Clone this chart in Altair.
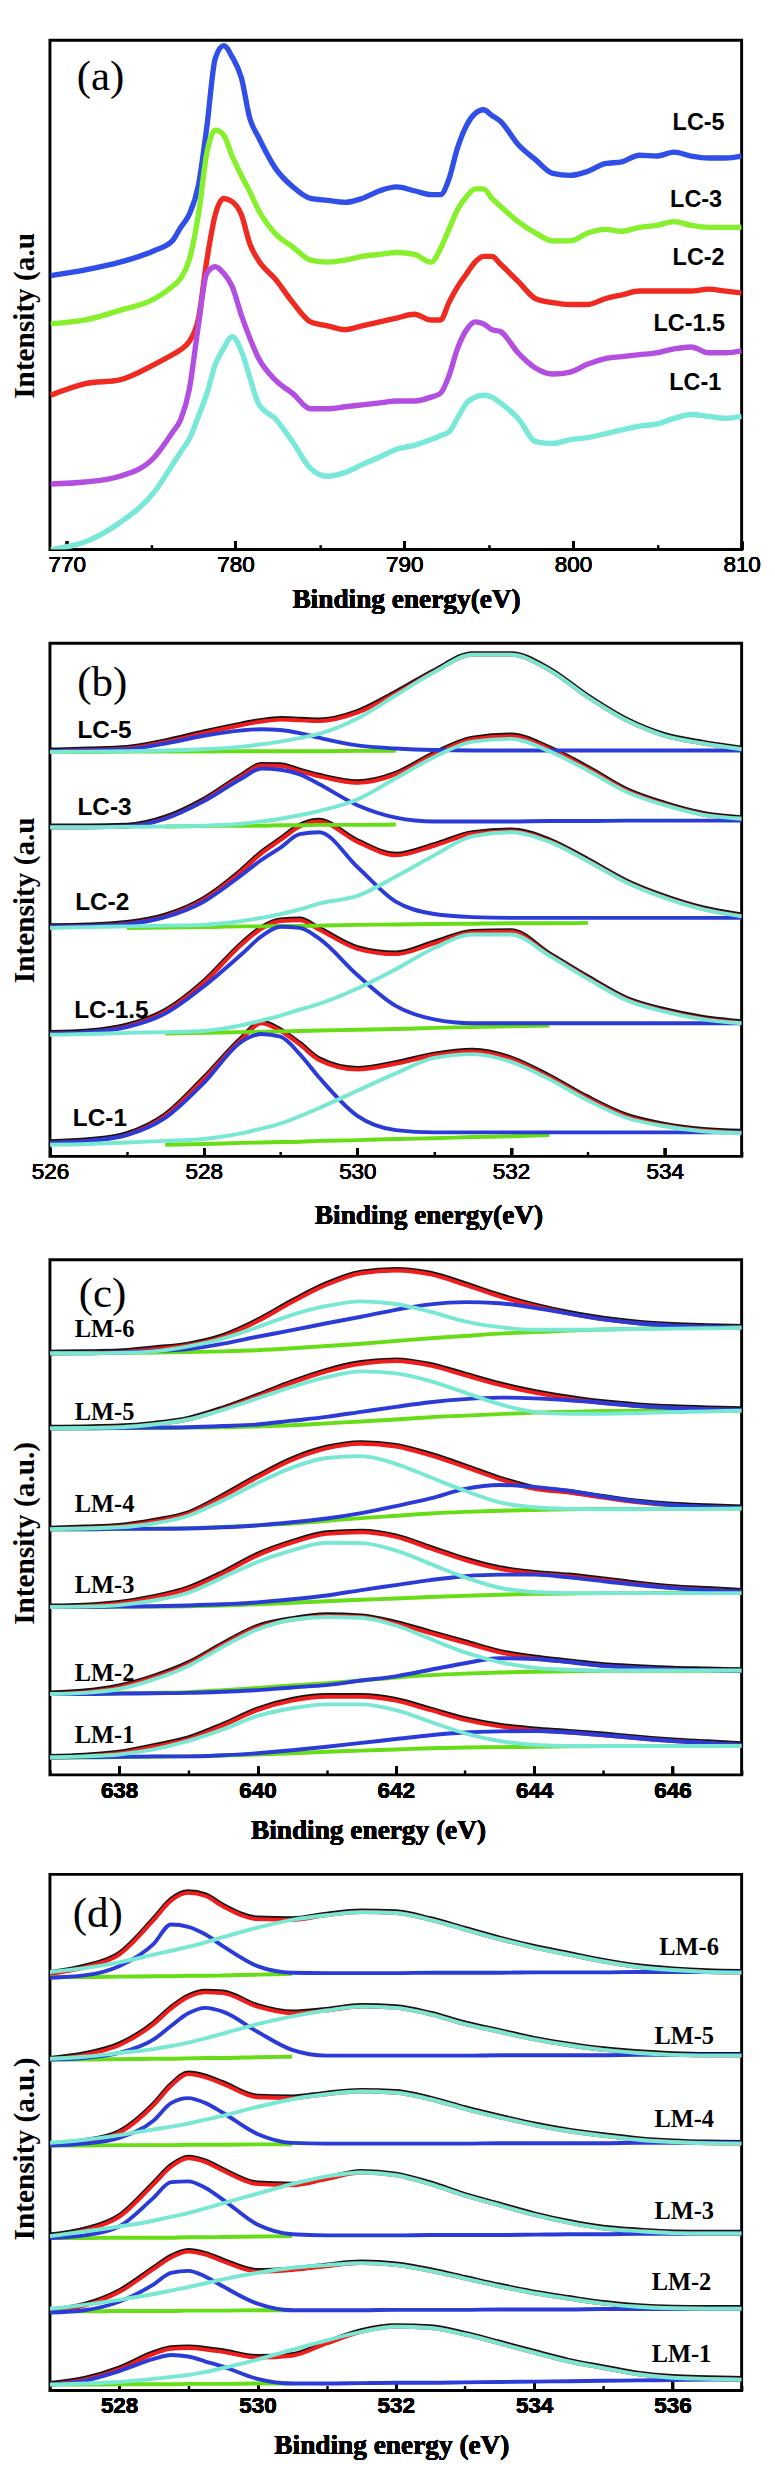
import altair as alt
import pandas as pd

# ======================= Panel (a): raw spectra =======================
A_X = [769.05, 771.1, 773.15, 775.2, 776.25, 776.75, 777.25, 777.8, 778.3, 778.8,
       779.3, 779.8, 780.35, 780.85, 781.35, 782.4, 783.4, 784.45, 785.45, 786.5,
       787.5, 788.55, 789.55, 790.6, 791.6, 792.15, 792.65, 793.15, 793.7, 794.2,
       794.7, 795.2, 795.7, 796.75, 797.8, 798.8, 799.85, 800.85, 801.9, 802.9,
       803.95, 804.95, 806.0, 807.0, 808.05, 809.05, 810.0]
A_LC5 = [710, 725, 745, 775, 800, 835, 868, 944, 1096, 1273, 1306, 1277, 1222, 1117, 1070, 986, 940,
         910, 905, 900, 910, 930, 940, 930, 920, 920, 960, 1040, 1100, 1130, 1140, 1125, 1110, 1050,
         1010, 975, 970, 980, 1000, 1005, 1022, 1020, 1030, 1020, 1015, 1015, 1020]
A_LC3 = [585, 595, 620, 650, 682, 703, 750, 868, 1028, 1087, 1074, 1020, 969, 927, 881, 817, 784,
         750, 745, 750, 760, 765, 770, 765, 745, 780, 830, 880, 915, 935, 935, 910, 890, 850,
         820, 800, 800, 820, 830, 825, 835, 840, 850, 840, 835, 835, 835]
A_LC2 = [400, 430, 440, 480, 505, 518, 539, 598, 750, 868, 910, 902, 868, 792, 750, 699, 640,
         590, 580, 570, 580, 590, 600, 610, 595, 595, 640, 680, 715, 745, 760, 760, 740, 695,
         650, 640, 635, 635, 650, 660, 670, 670, 670, 670, 675, 670, 665]
A_LC15 = [170, 175, 190, 240, 303, 337, 413, 581, 716, 733, 716, 682, 607, 548, 497, 438, 404,
          365, 365, 370, 375, 380, 385, 385, 395, 405, 450, 520, 570, 590, 585, 570, 565, 510,
          470, 455, 460, 480, 495, 500, 505, 510, 520, 525, 510, 510, 515]
A_LC1 = [0, 20, 70, 150, 219, 253, 286, 345, 404, 480, 522, 552, 514, 446, 379, 337, 278,
         210, 190, 200, 220, 240, 260, 270, 285, 295, 305, 340, 380, 395, 400, 395, 380, 340,
         280, 275, 285, 290, 300, 310, 320, 325, 340, 350, 345, 340, 345]
A_NAMES = ["LC-5", "LC-3", "LC-2", "LC-1.5", "LC-1"]
A_COLORS = ["#2f4fe8", "#86f02c", "#ef2a20", "#b24fe0", "#78e8d8"]
A_LABEL_X = [807.45, 807.3, 807.45, 806.9, 807.25]
A_LABEL_Y = [1105, 905, 755, 585, 430]
A_MAJOR = [770, 780, 790, 800, 810]
A_MINOR = [775, 785, 795, 805]

# ======================= Panel (b): O 1s of LC =======================
B_X = [526, 526.5, 527, 527.5, 528, 528.5, 528.75, 529, 529.25, 529.5, 530, 530.5,
       531, 531.5, 532, 532.5, 533, 533.5, 534, 534.5, 535]
B_NAMES = ["LC-5", "LC-3", "LC-2", "LC-1.5", "LC-1"]
B_RED = {
    "LC-5": [1050, 1053, 1057, 1074, 1097, 1118, 1127, 1132, 1130, 1128, 1150, 1200, 1256, 1300, 1300, 1260, 1190, 1130, 1090, 1070, 1055],
    "LC-3": [853, 853, 855, 876, 922, 986, 1013, 1012, 998, 985, 968, 990, 1042, 1081, 1089, 1056, 1005, 948, 912, 886, 875],
    "LC-2": [595, 597, 603, 622, 665, 740, 785, 820, 855, 868, 815, 780, 805, 836, 843, 817, 766, 711, 671, 641, 623],
    "LC-1.5": [318, 322, 337, 375, 450, 550, 590, 610, 612, 588, 538, 524, 552, 580, 582, 522, 462, 407, 377, 357, 346],
    "LC-1": [35, 40, 56, 105, 200, 305, 345, 325, 290, 250, 225, 240, 262, 272, 252, 205, 150, 104, 80, 67, 62],
}
B_BLUE = {
    "LC-5": [1050, 1052, 1055, 1070, 1090, 1104, 1107, 1105, 1097, 1085, 1065, 1057, 1053, 1052, 1052, 1052, 1052, 1052, 1052, 1052, 1052],
    "LC-3": [853, 853, 855, 875, 920, 980, 1005, 1002, 990, 965, 910, 878, 868, 868, 868, 869, 869, 870, 870, 870, 870],
    "LC-2": [595, 597, 602, 620, 660, 730, 768, 800, 835, 840, 750, 660, 628, 620, 618, 618, 618, 618, 618, 618, 618],
    "LC-1.5": [318, 322, 335, 370, 440, 525, 570, 595, 592, 565, 470, 390, 355, 345, 345, 345, 345, 345, 345, 345, 345],
    "LC-1": [35, 40, 55, 100, 190, 298, 317, 310, 265, 205, 105, 68, 62, 62, 62, 62, 62, 62, 62, 62, 62],
}
B_CYAN = {
    "LC-5": [1048, 1049, 1050, 1052, 1055, 1062, 1068, 1075, 1084, 1095, 1135, 1195, 1255, 1300, 1300, 1260, 1190, 1130, 1090, 1070, 1055],
    "LC-3": [853, 853, 854, 855, 857, 862, 868, 875, 884, 895, 925, 980, 1035, 1075, 1082, 1050, 1000, 945, 910, 885, 875],
    "LC-2": [592, 594, 596, 598, 600, 610, 618, 628, 640, 655, 675, 725, 780, 830, 840, 815, 765, 710, 670, 640, 622],
    "LC-1.5": [315, 317, 320, 322, 325, 340, 352, 365, 380, 395, 435, 485, 540, 575, 575, 520, 460, 405, 375, 355, 345],
    "LC-1": [30, 32, 36, 40, 45, 60, 72, 85, 104, 125, 170, 215, 255, 265, 245, 200, 145, 100, 78, 65, 60],
}
B_GREEN = {
    "LC-5": [1048, 1048, 1049, 1049, 1049, 1050, 1050, 1050, 1050, 1050, 1051, 1051, None, None, None, None, None, None, None, None, None],
    "LC-3": [None, None, None, 855, 856, 857, 857, 858, 858, 859, 859, 860, None, None, None, None, None, None, None, None, None],
    "LC-2": [None, None, 592, 593, 594, 596, 596, 597, 597, 598, 600, 601, 602, 603, 604, 604, 605, None, None, None, None],
    "LC-1.5": [None, None, None, 318, 320, 322, 323, 324, 325, 326, 328, 330, 333, 335, 337, 339, None, None, None, None, None],
    "LC-1": [None, None, None, 30, 32, 35, 36, 37, 38, 40, 42, 45, 47, 50, 52, 55, None, None, None, None, None],
}
B_LABEL_X = [526.71, 526.71, 526.68, 526.8, 526.65]
B_LABEL_Y = [1105, 905, 660, 380, 100]
B_MAJOR = [526, 528, 530, 532, 534]
B_MINOR = [527, 529, 531, 533, 535]

# ======================= Panel (c): Mn 2p3/2 of LM =======================
C_X = [637, 637.5, 638, 638.5, 639, 639.5, 640, 640.5, 641, 641.5, 642, 642.5,
       643, 643.5, 644, 644.5, 645, 645.5, 646, 646.5, 647]
C_NAMES = ["LM-6", "LM-5", "LM-4", "LM-3", "LM-2", "LM-1"]
C_RED = {
    "LM-6": [1095, 1096, 1098, 1106, 1116, 1138, 1178, 1228, 1273, 1303, 1310, 1300, 1273, 1243, 1218, 1198, 1183, 1173, 1167, 1164, 1162],
    "LM-5": [900, 901, 903, 910, 923, 950, 983, 1018, 1048, 1068, 1075, 1063, 1038, 1013, 993, 978, 966, 958, 953, 950, 948],
    "LM-4": [638, 641, 645, 658, 678, 723, 773, 818, 848, 860, 853, 830, 800, 768, 743, 733, 720, 708, 700, 696, 693],
    "LM-3": [436, 438, 445, 460, 483, 523, 570, 603, 626, 630, 618, 588, 558, 535, 523, 516, 506, 495, 486, 481, 476],
    "LM-2": [210, 215, 228, 253, 288, 338, 383, 403, 413, 410, 393, 368, 343, 318, 303, 293, 283, 278, 274, 272, 270],
    "LM-1": [45, 48, 56, 73, 93, 128, 168, 193, 203, 203, 193, 168, 143, 126, 116, 110, 103, 95, 88, 83, 78],
}
C_BLUE = {
    "LM-6": [1095, 1095, 1097, 1101, 1106, 1120, 1138, 1155, 1173, 1190, 1208, 1222, 1228, 1225, 1213, 1198, 1183, 1173, 1167, 1164, 1162],
    "LM-5": [900, 900, 901, 902, 903, 906, 910, 920, 930, 943, 956, 968, 976, 980, 978, 973, 966, 958, 953, 950, 948],
    "LM-4": [638, 638, 639, 639, 640, 643, 648, 656, 666, 680, 698, 718, 743, 753, 748, 738, 723, 710, 701, 696, 693],
    "LM-3": [436, 436, 437, 438, 440, 443, 448, 456, 466, 480, 493, 506, 516, 520, 520, 513, 503, 493, 485, 480, 476],
    "LM-2": [210, 210, 211, 212, 213, 216, 220, 227, 233, 245, 256, 273, 290, 303, 301, 293, 283, 278, 274, 272, 270],
    "LM-1": [45, 46, 47, 48, 48, 51, 56, 64, 73, 83, 93, 103, 110, 113, 114, 110, 103, 95, 88, 83, 78],
}
C_CYAN = {
    "LM-6": [1095, 1095, 1096, 1100, 1113, 1133, 1163, 1195, 1218, 1230, 1223, 1203, 1178, 1163, 1156, 1156, 1157, 1158, 1159, 1160, 1161],
    "LM-5": [900, 901, 903, 910, 923, 948, 978, 1008, 1033, 1048, 1043, 1023, 993, 963, 943, 938, 938, 940, 942, 944, 946],
    "LM-4": [638, 640, 643, 653, 673, 713, 758, 798, 823, 828, 808, 773, 738, 708, 695, 691, 690, 690, 691, 691, 692],
    "LM-3": [436, 437, 441, 453, 473, 513, 553, 583, 603, 602, 583, 548, 513, 486, 475, 472, 472, 472, 472, 472, 472],
    "LM-2": [210, 213, 223, 248, 283, 333, 378, 403, 410, 408, 388, 353, 318, 293, 278, 273, 271, 271, 271, 271, 271],
    "LM-1": [45, 48, 53, 66, 88, 118, 153, 173, 183, 183, 168, 138, 108, 88, 78, 75, 75, 75, 75, 75, 75],
}
C_GREEN = {
    "LM-6": [1095, 1095, 1096, 1097, 1098, 1100, 1103, 1108, 1114, 1120, 1127, 1134, 1140, 1146, 1150, 1154, 1157, 1159, 1161, 1162, 1163],
    "LM-5": [900, 900, 901, 901, 902, 903, 905, 908, 913, 918, 923, 929, 933, 937, 941, 943, 945, 946, 946, 946, 946],
    "LM-4": [638, 638, 639, 640, 641, 644, 648, 653, 660, 667, 673, 679, 683, 686, 688, 690, 691, 691, 692, 692, 692],
    "LM-3": [436, 436, 437, 437, 438, 440, 443, 447, 451, 455, 458, 462, 465, 468, 470, 471, 472, 472, 473, 473, 473],
    "LM-2": [210, 210, 212, 213, 215, 220, 226, 232, 238, 245, 253, 259, 263, 266, 268, 269, 270, 270, 270, 270, 270],
    "LM-1": [45, 45, 46, 47, 48, 50, 53, 56, 60, 63, 66, 69, 71, 72, 73, 74, 75, 75, 75, 75, 75],
}
C_LABEL_X = [637.79, 637.79, 637.79, 637.79, 637.79, 637.79]
C_LABEL_Y = [1158, 943, 703, 493, 263, 103]
C_MAJOR = [638, 640, 642, 644, 646]
C_MINOR = [637, 639, 641, 643, 645, 647]

# ======================= Panel (d): O 1s of LM =======================
D_X = [527, 527.5, 528, 528.5, 528.75, 529, 529.25, 529.5, 530, 530.5, 531, 531.5,
       532, 532.5, 533, 533.5, 534, 534.5, 535, 535.5, 536, 536.5, 537]
D_NAMES = ["LM-6", "LM-5", "LM-4", "LM-3", "LM-2", "LM-1"]
D_RED = {
    "LM-6": [1080, 1097, 1130, 1220, 1270, 1290, 1282, 1255, 1222, 1220, 1232, 1240, 1238, 1220, 1195, 1170, 1148, 1130, 1112, 1098, 1090, 1085, 1083],
    "LM-5": [858, 870, 895, 950, 990, 1020, 1032, 1030, 995, 978, 985, 995, 992, 975, 950, 930, 910, 895, 883, 875, 870, 868, 868],
    "LM-4": [635, 645, 668, 740, 790, 820, 812, 795, 760, 758, 768, 775, 772, 755, 730, 708, 688, 672, 660, 650, 644, 641, 640],
    "LM-3": [400, 415, 450, 535, 580, 602, 592, 570, 535, 532, 548, 565, 558, 535, 505, 480, 455, 435, 420, 413, 408, 407, 407],
    "LM-2": [205, 220, 255, 315, 345, 360, 352, 335, 308, 312, 322, 330, 325, 310, 290, 270, 252, 238, 225, 217, 213, 212, 212],
    "LM-1": [15, 28, 55, 95, 108, 110, 106, 100, 85, 90, 122, 152, 165, 162, 145, 122, 98, 75, 58, 42, 33, 30, 28],
}
D_BLUE = {
    "LM-6": [1070, 1076, 1100, 1158, 1208, 1202, 1182, 1152, 1100, 1083, 1082, 1082, 1082, 1083, 1083, 1083, 1084, 1084, 1084, 1085, 1085, 1085, 1085],
    "LM-5": [858, 862, 875, 910, 945, 978, 992, 982, 930, 883, 868, 868, 868, 868, 868, 869, 869, 869, 869, 870, 870, 870, 870],
    "LM-4": [635, 640, 655, 700, 745, 758, 745, 720, 665, 642, 640, 640, 640, 640, 640, 641, 641, 641, 641, 642, 642, 642, 642],
    "LM-3": [395, 402, 425, 500, 540, 542, 525, 495, 430, 405, 402, 402, 402, 403, 403, 403, 404, 405, 405, 406, 406, 407, 407],
    "LM-2": [202, 208, 230, 275, 305, 310, 295, 270, 225, 208, 208, 208, 209, 209, 209, 210, 210, 210, 211, 211, 211, 212, 212],
    "LM-1": [15, 25, 50, 82, 92, 88, 75, 62, 30, 18, 18, 19, 20, 20, 21, 22, 23, 24, 25, 26, 27, 28, 28],
}
D_CYAN = {
    "LM-6": [1085, 1095, 1110, 1130, 1140, 1150, 1162, 1175, 1200, 1220, 1232, 1240, 1238, 1220, 1195, 1170, 1148, 1130, 1112, 1098, 1090, 1085, 1083],
    "LM-5": [860, 865, 875, 885, 893, 902, 913, 925, 950, 970, 985, 995, 992, 975, 950, 930, 910, 895, 883, 875, 870, 868, 868],
    "LM-4": [642, 650, 662, 677, 684, 692, 702, 712, 735, 755, 768, 775, 772, 755, 730, 708, 688, 672, 660, 650, 644, 641, 640],
    "LM-3": [400, 412, 425, 440, 450, 460, 472, 485, 510, 535, 555, 565, 558, 535, 505, 480, 455, 435, 420, 413, 408, 407, 407],
    "LM-2": [212, 222, 235, 250, 259, 268, 278, 288, 305, 318, 325, 330, 325, 310, 290, 270, 252, 238, 225, 217, 213, 212, 212],
    "LM-1": [15, 18, 22, 30, 35, 40, 48, 58, 80, 105, 130, 152, 165, 162, 145, 122, 98, 75, 58, 42, 33, 30, 28],
}
D_GREEN = {
    "LM-6": [1072, 1072, 1073, 1074, 1074, 1075, 1075, 1076, 1078, 1080] + [None] * 13,
    "LM-5": [858, 858, 859, 860, 860, 861, 862, 862, 864, 865] + [None] * 13,
    "LM-4": [635, 635, 636, 636, 636, 637, 637, 637, 638, 638] + [None] * 13,
    "LM-3": [395, 395, 396, 396, 396, 397, 397, 398, 399, 400] + [None] * 13,
    "LM-2": [205, 205, 206, 206, 206, 207, 207, 207, 208, 208] + [None] * 13,
    "LM-1": [15, 15, 16, 16, 16, 17, 17, 17, 18, 18] + [None] * 13,
}
D_LABEL_X = [536.24, 536.17, 536.17, 536.17, 536.13, 536.13]
D_LABEL_Y = [1150, 918, 703, 465, 280, 95]
D_MAJOR = [528, 530, 532, 534, 536]
D_MINOR = [527, 529, 531, 533, 535, 537]

FIT_COLORS = {"data": "#141414", "red": "#f01d1d", "green": "#66dd14",
              "blue": "#2b3bd8", "cyan": "#78e8d2"}

SERIF = "Liberation Serif"
SANS = "Liberation Sans"
W = 709


def x_axis(major, title, bold, title_x, title_y):
    return alt.Axis(values=major, orient="bottom", title=title, tickSize=9, offset=-9,
                    domain=False, grid=False, tickColor="black", tickWidth=2.5,
                    labelFont=SANS, labelFontSize=23,
                    labelFontWeight="bold" if bold else "normal", labelColor="black",
                    labelPadding=5, labelFlush=False, labelOverlap=False, format="d",
                    titleFont=SERIF, titleFontSize=28, titleFontWeight="bold",
                    titleColor="black", titleX=title_x, titleY=title_y,
                    titleBaseline="middle", titleAlign="center")


def minor_axis(minor):
    return alt.Axis(values=minor, orient="bottom", title=None, labels=False,
                    tickSize=5, offset=-5, domain=False, grid=False,
                    tickColor="black", tickWidth=2.5)


def y_axis(title, title_y):
    return alt.Axis(title=title, labels=False, ticks=False, domain=False, grid=False,
                    titleFont=SERIF, titleFontSize=30, titleFontWeight="bold",
                    titleColor="black", titleX=-26, titleY=title_y,
                    titleBaseline="middle", titleAlign="center", titleAngle=270)


def build_panel(lines, xdom, ydom, h, major, minor, xtitle, ytitle, bold,
                title_x, title_y, ytitle_y, names, lab_x, lab_y, lab_font,
                tag, tag_x, tag_y):
    xs = alt.Scale(domain=xdom, nice=False, zero=False)
    ys = alt.Scale(domain=ydom, nice=False, zero=False)
    X = alt.X("x:Q", scale=xs, axis=x_axis(major, xtitle, bold, title_x, title_y))
    Y = alt.Y("y:Q", scale=ys, axis=y_axis(ytitle, ytitle_y))
    layers = []
    for df, color, width, yoff in lines:
        mk = dict(color=color, strokeWidth=width, interpolate="monotone", clip=True,
                  strokeJoin="round")
        if yoff:
            mk["yOffset"] = yoff
        layers.append(alt.Chart(df).mark_line(**mk).encode(x=X, y=Y, detail="sample:N"))
    lab_df = pd.DataFrame({"x": lab_x, "y": lab_y, "t": names})
    layers.append(alt.Chart(lab_df).mark_text(font=lab_font[0], fontSize=lab_font[1],
                                              fontWeight="bold", color="black",
                                              align="center", baseline="middle")
                  .encode(x=X, y=Y, text="t:N"))
    tag_df = pd.DataFrame({"x": [tag_x], "y": [tag_y], "t": [tag]})
    layers.append(alt.Chart(tag_df).mark_text(font=SERIF, fontSize=44, color="black",
                                              align="center", baseline="middle")
                  .encode(x=X, y=Y, text="t:N"))
    minor_df = pd.DataFrame({"x": minor})
    layers.append(alt.Chart(minor_df).mark_point(opacity=0, size=1)
                  .encode(x=alt.X("x:Q", scale=xs, axis=minor_axis(minor))))
    return (alt.layer(*layers).resolve_axis(x="independent")
            .properties(width=W, height=h))


def long_frame(xs, bysample):
    rows = []
    for s, ys in bysample.items():
        for x, y in zip(xs, ys):
            rows.append({"x": x, "y": y, "sample": s})
    return pd.DataFrame(rows)


def fit_lines(xs, red, green, blue, cyan):
    return [
        (long_frame(xs, red), FIT_COLORS["data"], 5, -1.2),
        (long_frame(xs, red), FIT_COLORS["red"], 4, 0),
        (long_frame(xs, green), FIT_COLORS["green"], 4, 0),
        (long_frame(xs, blue), FIT_COLORS["blue"], 4, 0),
        (long_frame(xs, cyan), FIT_COLORS["cyan"], 4, 0),
    ]


# ---- panel a ----
a_series = [A_LC5, A_LC3, A_LC2, A_LC15, A_LC1]
a_lines = []
for name, ys, col in zip(A_NAMES, a_series, A_COLORS):
    a_lines.append((long_frame(A_X, {name: ys}), col, 5.5, 0))
panel_a = build_panel(a_lines, [769, 810], [0, 1320], 522, A_MAJOR, A_MINOR,
                      "Binding energy(eV)", "Intensity (a.u", False, 365, 60, 282,
                      A_NAMES, A_LABEL_X, A_LABEL_Y, (SANS, 24), "(a)", 772.0, 1225)

panel_b = build_panel(fit_lines(B_X, B_RED, B_GREEN, B_BLUE, B_CYAN),
                      [526, 535], [0, 1330], 526, B_MAJOR, B_MINOR,
                      "Binding energy(eV)", "Intensity (a.u", False, 388, 70, 263,
                      B_NAMES, B_LABEL_X, B_LABEL_Y, (SANS, 25), "(b)", 526.68, 1225)

panel_c = build_panel(fit_lines(C_X, C_RED, C_GREEN, C_BLUE, C_CYAN),
                      [637, 647], [0, 1338], 528, C_MAJOR, C_MINOR,
                      "Binding energy (eV)", "Intensity (a.u.)", True, 326, 66, 280,
                      C_NAMES, C_LABEL_X, C_LABEL_Y, (SERIF, 25), "(c)", 637.76, 1248)

panel_d = build_panel(fit_lines(D_X, D_RED, D_GREEN, D_BLUE, D_CYAN),
                      [527, 537], [0, 1338], 529, D_MAJOR, D_MINOR,
                      "Binding energy (eV)", "Intensity (a.u.)", True, 350, 66, 281,
                      D_NAMES, D_LABEL_X, D_LABEL_Y, (SERIF, 25), "(d)", 527.69, 1235)

chart = (alt.vconcat(panel_a, panel_b, panel_c, panel_d, spacing=27)
         .properties(padding={"left": 0, "top": 0, "right": 5, "bottom": 0},
                     background="white")
         .configure_view(stroke="black", strokeWidth=3))

chart.save("out.html", embed_options={"renderer": "svg", "actions": False})
